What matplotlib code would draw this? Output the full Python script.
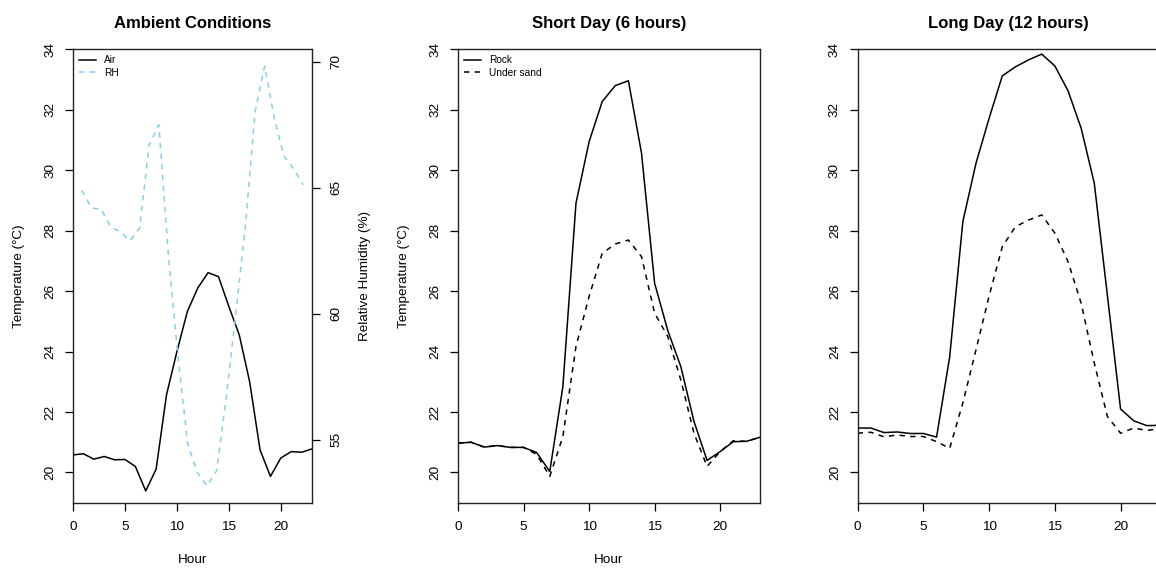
import matplotlib
matplotlib.use("Agg")
import matplotlib.pyplot as plt
import numpy as np

plt.rcParams['font.family'] = ['Liberation Sans', 'DejaVu Sans']

hours = list(range(24))

air_temp = [20.58, 20.62, 20.44, 20.53, 20.42, 20.43, 20.20, 19.39, 20.11, 22.57,
            24.00, 25.32, 26.10, 26.61, 26.48, 25.49, 24.55, 23.00, 20.75, 19.87,
            20.48, 20.69, 20.67, 20.78]
rh_index = list(range(1, 25))
rh_values = [64.90, 64.20, 64.15, 63.45, 63.25, 62.90, 63.40, 66.70, 67.50, 62.30,
             58.27, 54.84, 53.70, 53.17, 53.77, 56.65, 60.00, 63.48, 68.00, 69.83,
             67.76, 66.27, 65.76, 65.12]

short_rock = [20.97, 21.00, 20.84, 20.89, 20.83, 20.83, 20.66, 20.03, 22.84, 28.91,
              30.94, 32.27, 32.80, 32.96, 30.56, 26.26, 24.70, 23.50, 21.69, 20.40,
              20.69, 21.02, 21.03, 21.16]
short_sand = [20.97, 21.00, 20.84, 20.89, 20.83, 20.83, 20.60, 19.87, 21.19, 24.17,
              25.82, 27.25, 27.56, 27.69, 27.14, 25.27, 24.50, 23.06, 21.30, 20.20,
              20.69, 21.05, 21.03, 21.16]

long_rock = [21.47, 21.47, 21.32, 21.34, 21.29, 21.29, 21.17, 23.83, 28.30, 30.23,
             31.72, 33.12, 33.42, 33.65, 33.84, 33.45, 32.63, 31.39, 29.57, 25.85,
             22.10, 21.71, 21.55, 21.56]
long_sand = [21.30, 21.33, 21.18, 21.24, 21.19, 21.19, 21.02, 20.80, 22.30, 24.06,
             25.84, 27.47, 28.13, 28.35, 28.52, 27.92, 26.98, 25.60, 23.62, 21.85,
             21.30, 21.47, 21.39, 21.45]

titles = ["Ambient Conditions", "Short Day (6 hours)", "Long Day (12 hours)"]
x_ticks = [0, 5, 10, 15, 20]
temp_ticks = [20, 22, 24, 26, 28, 30, 32, 34]
rh_ticks = [55, 60, 65, 70]

W, H = 1156, 571
fig = plt.figure(figsize=(W / 100, H / 100), dpi=100)

def frac_rect(left, right, top, bottom):
    return [left / W, 1 - bottom / H, (right - left) / W, (bottom - top) / H]

rects = [frac_rect(73, 312, 49.3, 502.7),
         frac_rect(458, 759.5, 49.3, 502.7),
         frac_rect(857.7, 1160, 49.3, 502.7)]

LW = 1.1
DASH = (3.5, 3.5)
SKY = '#87CEEB'
TICKFS = 9.7
LABFS = 9.7
TITLEFS = 12

def style(ax):
    ax.set_xlim(0, 23)
    ax.set_ylim(19, 34)
    ax.set_xticks(x_ticks)
    ax.set_yticks(temp_ticks)
    ax.tick_params(direction='out', length=5.5, width=0.9, labelsize=TICKFS)
    ax.tick_params(axis='x', pad=8)
    ax.tick_params(axis='y', pad=6.5)
    for lab in ax.get_yticklabels():
        lab.set_rotation(90)
        lab.set_va('center')
    for s in ax.spines.values():
        s.set_linewidth(1.0)
        s.set_color('#222222')

axes = [fig.add_axes(r) for r in rects]

leg_kw = dict(loc='upper left', frameon=False, fontsize=7.3, handlelength=1.7,
              borderaxespad=0.25, labelspacing=0.25, handletextpad=0.8, borderpad=0.35)

# Panel 1
ax = axes[0]
l1, = ax.plot(hours, air_temp, color='black', lw=LW)
style(ax)
ax.set_title(titles[0], fontsize=TITLEFS, fontweight='bold', pad=15)
ax.set_ylabel("Temperature (°C)", fontsize=LABFS, labelpad=14)
ax.set_xlabel("Hour", fontsize=LABFS, labelpad=15)
ax2 = fig.add_axes(rects[0], frameon=False)
l2, = ax2.plot(rh_index, rh_values, color=SKY, lw=LW, dashes=DASH)
ax2.set_xlim(1 - 0.04 * 23, 24 + 0.04 * 23)
rmin, rmax = min(rh_values), max(rh_values)
rr = rmax - rmin
ax2.set_ylim(rmin - 0.04 * rr, rmax + 0.04 * rr)
ax2.xaxis.set_visible(False)
ax2.yaxis.tick_right()
ax2.yaxis.set_label_position('right')
ax2.set_yticks(rh_ticks)
ax2.tick_params(direction='out', length=5.5, width=0.9, labelsize=TICKFS, pad=7.5)
for lab in ax2.get_yticklabels():
    lab.set_rotation(90)
    lab.set_va('center')
ax2.set_ylabel("Relative Humidity (%)", fontsize=LABFS, labelpad=12)
ax.legend([l1, l2], ["Air", "RH"], **leg_kw)

# Panel 2
ax = axes[1]
r1, = ax.plot(hours, short_rock, color='black', lw=LW)
r2, = ax.plot(hours, short_sand, color='black', lw=LW, dashes=DASH)
style(ax)
ax.set_title(titles[1], fontsize=TITLEFS, fontweight='bold', pad=15)
ax.set_ylabel("Temperature (°C)", fontsize=LABFS, labelpad=14)
ax.set_xlabel("Hour", fontsize=LABFS, labelpad=15)
ax.legend([r1, r2], ["Rock", "Under sand"], **leg_kw)

# Panel 3
ax = axes[2]
ax.plot(hours, long_rock, color='black', lw=LW)
ax.plot(hours, long_sand, color='black', lw=LW, dashes=DASH)
style(ax)
ax.set_title(titles[2], fontsize=TITLEFS, fontweight='bold', pad=15)

fig.savefig("out.png", dpi=100)
